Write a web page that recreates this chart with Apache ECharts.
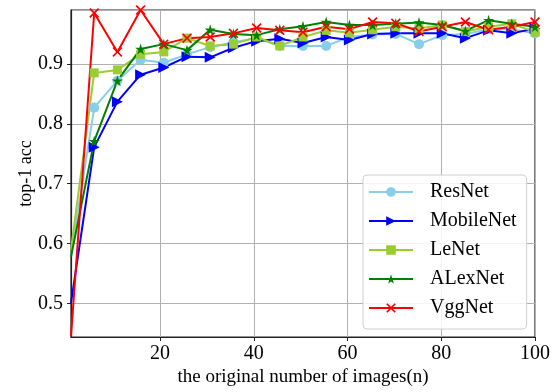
<!DOCTYPE html>
<html>
<head>
<meta charset="utf-8">
<script src="https://cdn.jsdelivr.net/npm/echarts@6/dist/echarts.min.js"></script>
<style>html,body{margin:0;padding:0;background:#fff}#c{width:553px;height:392px}</style>
</head>
<body>
<div id="c"></div>
<script>
var xValues = [1, 5.95, 10.9, 15.85, 20.8, 25.75, 30.7, 35.65, 40.6, 45.55, 50.5, 55.45, 60.4, 65.35, 70.3, 75.25, 80.2, 85.15, 90.1, 95.05, 100];
var resNet = [0.58, 0.827, 0.872, 0.907, 0.902, 0.916, 0.928, 0.936, 0.943, 0.930, 0.930, 0.930, 0.945, 0.949, 0.950, 0.933, 0.948, 0.950, 0.958, 0.958, 0.951];
var mobileNet = [0.501, 0.761, 0.837, 0.882, 0.894, 0.912, 0.911, 0.927, 0.938, 0.942, 0.935, 0.945, 0.940, 0.950, 0.951, 0.951, 0.951, 0.943, 0.956, 0.951, 0.959];
var leNet = [0.59, 0.885, 0.890, 0.916, 0.920, 0.943, 0.930, 0.933, 0.945, 0.930, 0.945, 0.956, 0.952, 0.957, 0.962, 0.959, 0.965, 0.954, 0.962, 0.967, 0.953];
var alexNet = [0.578, 0.771, 0.872, 0.925, 0.933, 0.923, 0.957, 0.950, 0.948, 0.958, 0.963, 0.970, 0.965, 0.965, 0.967, 0.969, 0.965, 0.955, 0.973, 0.967, 0.962];
var vggNet = [0.445, 0.985, 0.920, 0.990, 0.933, 0.943, 0.945, 0.951, 0.960, 0.956, 0.953, 0.962, 0.958, 0.970, 0.968, 0.954, 0.962, 0.970, 0.957, 0.962, 0.970];
var seriesNames = ['ResNet', 'MobileNet', 'LeNet', 'ALexNet', 'VggNet'];
var xAxisName = 'the original number of images(n)';
var yAxisName = 'top-1 acc';

function pairs(ys) {
  return xValues.map(function (x, i) {
    // the first point sits on the left frame where the reference clips its marker
    return i === 0 ? { value: [x, ys[i]], symbol: 'none' } : [x, ys[i]];
  });
}

var FONT = '"Liberation Serif", "DejaVu Serif", serif';
var starPath = 'path://M50,0 L61,35 L98,35 L68,57 L79,91 L50,70 L21,91 L32,57 L2,35 L39,35 Z';
var xPath = 'path://M0,12 L12,0 L50,38 L88,0 L100,12 L62,50 L100,88 L88,100 L50,62 L12,100 L0,88 L38,50 Z';

var styles = [
  { data: resNet, color: '#87CEEB', symbol: 'circle', size: 10, rotate: 0 },
  { data: mobileNet, color: '#0000FF', symbol: 'triangle', size: 11, rotate: -90 },
  { data: leNet, color: '#9ACD32', symbol: 'rect', size: 9, rotate: 0 },
  { data: alexNet, color: '#008000', symbol: starPath, size: 11, rotate: 0 },
  { data: vggNet, color: '#FF0000', symbol: xPath, size: 10, rotate: 0 }
];

var chart = echarts.init(document.getElementById('c'), null, { renderer: 'canvas' });
chart.setOption({
  animation: false,
  backgroundColor: '#fff',
  grid: { left: 71, right: 16, top: 10, bottom: 53, show: true, borderColor: '#222', borderWidth: 1.2, backgroundColor: 'transparent' },
  xAxis: {
    type: 'value', min: 1, max: 100,
    name: xAxisName, nameLocation: 'middle', nameGap: 31, nameMoveOverlap: false,
    nameTextStyle: { fontFamily: FONT, fontSize: 19, color: '#000' },
    axisLine: { show: true, onZero: false, lineStyle: { color: '#222', width: 1.2 } },
    axisTick: { show: true, length: 4, lineStyle: { color: '#222' } },
    axisLabel: { showMinLabel: false, fontFamily: FONT, fontSize: 20, color: '#000', margin: 7 },
    splitLine: { show: true, lineStyle: { color: '#b0b0b0', width: 1 } }
  },
  yAxis: {
    type: 'value', min: 0.444, max: 0.99,
    name: yAxisName, nameLocation: 'middle', nameGap: 36, nameRotate: 90, nameMoveOverlap: false,
    nameTextStyle: { fontFamily: FONT, fontSize: 18, color: '#000' },
    axisLine: { show: true, onZero: false, lineStyle: { color: '#222', width: 1.2 } },
    axisTick: { show: true, length: 4, lineStyle: { color: '#222' } },
    axisLabel: { showMinLabel: false, showMaxLabel: false, fontFamily: FONT, fontSize: 20, color: '#000', margin: 8,
      formatter: function (v) { return (Math.round(v * 10) / 10).toFixed(1); } },
    splitLine: { show: true, lineStyle: { color: '#b0b0b0', width: 1 } }
  },
  legend: {
    orient: 'vertical', left: 363, top: 175,
    padding: [6, 10, 10, 5],
    itemWidth: 44, itemHeight: 12, itemGap: 7,
    backgroundColor: 'rgba(255,255,255,0.85)', borderColor: '#d0d0d0', borderWidth: 1, borderRadius: 4,
    textStyle: { fontFamily: FONT, fontSize: 20, color: '#000', lineHeight: 22, padding: [0, 0, 0, 12] },
    data: seriesNames
  },
  series: styles.map(function (s, i) {
    return {
      name: seriesNames[i], type: 'line', data: pairs(s.data),
      symbol: s.symbol, symbolSize: s.size, symbolRotate: s.rotate, showSymbol: true,
      clip: true,
      lineStyle: { color: s.color, width: 2 },
      itemStyle: { color: s.color, borderWidth: 0 },
      emphasis: { disabled: true }
    };
  })
});
</script>
</body>
</html>
